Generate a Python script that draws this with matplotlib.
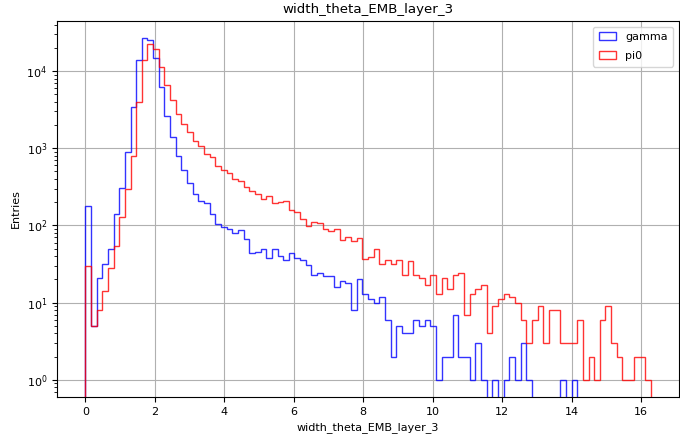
import numpy as np
import matplotlib
matplotlib.use("Agg")
import matplotlib.pyplot as plt

# bin contents (100 equal bins from 0 to ~16.3)
x_min = 0.0
x_max = 16.28
n_bins = 100

gamma = [177, 5, 21, 32, 50, 141, 304, 896, 3460, 13770,
         26700, 25600, 14800, 6190, 2650, 1406, 787, 525, 352, 255,
         208, 194, 139, 103, 95, 89, 79, 88, 66, 44,
         45, 50, 38, 49, 40, 36, 44, 38, 36, 31,
         23, 24, 22, 22, 16, 19, 18, 8, 20, 13,
         11, 10, 12, 6, 2, 5, 4, 4, 6, 5,
         6, 5, 1, 2, 2, 7, 2, 2, 1, 3,
         1, 0, 1, 0, 1, 2, 1, 3, 1, 0,
         0, 0, 0, 0, 1, 0, 1, 0, 0, 0,
         0, 0, 0, 0, 0, 0, 0, 0, 0, 0]

pi0 = [30, 5, 8, 14, 28, 55, 128, 295, 802, 3980,
       13900, 22700, 19400, 11270, 6630, 4230, 2750, 2060, 1640, 1235,
       1073, 852, 770, 587, 525, 475, 401, 377, 315, 282,
       257, 217, 238, 198, 204, 206, 158, 148, 121, 98,
       110, 107, 90, 85, 89, 64, 70, 62, 69, 37,
       39, 49, 32, 36, 32, 36, 23, 35, 23, 21,
       17, 23, 13, 21, 15, 23, 24, 7, 13, 15,
       17, 4, 9, 11, 13, 12, 10, 6, 3, 6,
       9, 3, 8, 8, 3, 3, 3, 6, 1, 2,
       1, 6, 9, 3, 2, 1, 1, 2, 2, 1]

var_name = "width_theta_EMB_layer_3"

edges = np.linspace(x_min, x_max, n_bins + 1)
centers = 0.5 * (edges[:-1] + edges[1:])

fig, ax = plt.subplots(figsize=(6.8, 4.37), dpi=100)
fig.subplots_adjust(left=57/680, right=679/680, top=1-21/437, bottom=1-397/437)

ax.hist(centers, bins=edges, weights=gamma, histtype="step", color="blue",
        alpha=0.8, linewidth=1.0, log=True, label="gamma")
ax.hist(centers, bins=edges, weights=pi0, histtype="step", color="red",
        alpha=0.8, linewidth=1.0, log=True, label="pi0")

ax.set_title(var_name, fontsize=9.6)
ax.set_xlabel(var_name, fontsize=8)
ax.set_ylabel("Entries", fontsize=8)
ax.tick_params(labelsize=8)
ax.grid(True, color="#b0b0b0", linewidth=0.8)
ax.legend(loc="upper right", fontsize=8, labelspacing=0.8,
          handlelength=1.6, borderpad=0.5)

fig.savefig("out.png", dpi=100)
